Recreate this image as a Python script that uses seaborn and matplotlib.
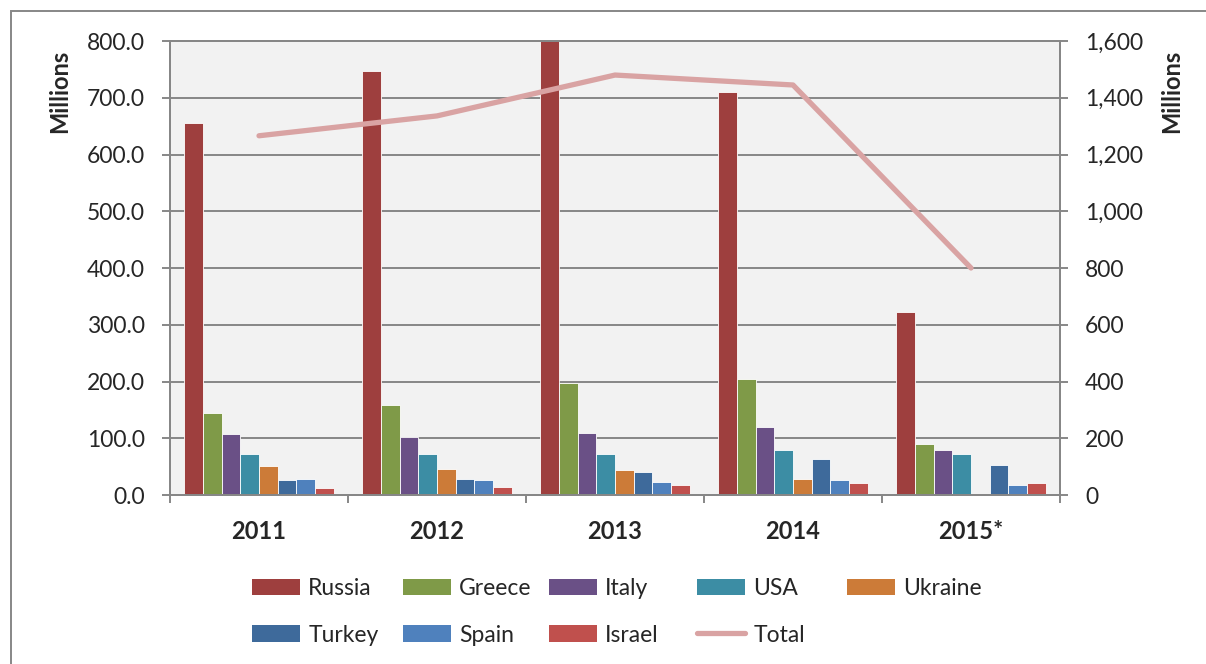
import numpy as np
import pandas as pd
import seaborn as sns
import matplotlib.pyplot as plt
from matplotlib.patches import Rectangle, Patch
from matplotlib.lines import Line2D
from matplotlib.ticker import FuncFormatter, MultipleLocator, FixedLocator

years = ["2011", "2012", "2013", "2014", "2015*"]
countries = ["Russia", "Greece", "Italy", "USA", "Ukraine", "Turkey", "Spain", "Israel"]

russia = [655, 747, 810, 710, 322]
greece = [144, 159, 197, 204, 90]
italy = [108, 102, 109, 120, 79]
usa = [73, 72, 73, 80, 72]
ukraine = [51, 46, 44, 29, np.nan]
turkey = [26, 28, 40, 63, 52]
spain = [29, 26, 23, 26, 18]
israel = [12, 14, 18, 22, 22]
total = [1266, 1336, 1480, 1445, 800]

colors = {
    "Russia": "#9E3F3E",
    "Greece": "#7F9A48",
    "Italy": "#6A5086",
    "USA": "#3C8DA4",
    "Ukraine": "#CC7B38",
    "Turkey": "#3E6A9B",
    "Spain": "#4F81BD",
    "Israel": "#C0504D",
}
total_color = "#D9A3A3"
grey = "#878787"

series = [russia, greece, italy, usa, ukraine, turkey, spain, israel]
df = pd.DataFrame({
    "year": np.tile(years, len(countries)),
    "country": np.repeat(countries, len(years)),
    "value": np.concatenate(series),
})

sns.set_style("white")
plt.rcParams["font.family"] = ["Lato", "DejaVu Sans"]
fs = 16.5

fig = plt.figure(figsize=(12.06, 6.64), dpi=100)
ax = fig.add_axes([170 / 1206, 1 - 495 / 664, (1060 - 170) / 1206, (495 - 41) / 664])
ax.set_facecolor("#F2F2F2")

sns.barplot(data=df, x="year", y="value", hue="country", order=years,
            hue_order=countries, palette=colors, saturation=1, errorbar=None,
            width=0.84, edgecolor="#FFFFFF", linewidth=0.6, legend=False, ax=ax)

ax.set_ylim(0, 800)
ax.set_xlim(-0.5, 4.5)
ax.yaxis.set_major_locator(MultipleLocator(100))
ax.yaxis.set_major_formatter(FuncFormatter(lambda v, p: f"{v:.1f}"))
ax.grid(axis="y", color=grey, linewidth=1.4)
ax.set_axisbelow(True)
for s in ax.spines.values():
    s.set_color(grey)
    s.set_linewidth(1.4)
ax.tick_params(axis="y", left=True, length=6, width=1.4, color=grey, pad=12, labelsize=fs)
ax.tick_params(axis="x", which="major", length=0, pad=18)
ax.xaxis.set_minor_locator(FixedLocator(np.arange(-0.5, 5.0, 1.0)))
ax.tick_params(axis="x", which="minor", bottom=True, length=6, width=1.4, color=grey)
for lbl in ax.get_xticklabels():
    lbl.set_fontweight("bold")
    lbl.set_fontsize(17)
ax.set_xlabel("")
ax.set_ylabel("Millions", fontweight="bold", fontsize=17)
ax.yaxis.set_label_coords((71 - 170) / 890, (495 - 91) / 454)

ax2 = ax.twinx()
sns.lineplot(x=np.arange(len(years)), y=total, color=total_color, linewidth=3.8,
             solid_capstyle="round", ax=ax2)
ax2.set_ylim(0, 1600)
ax2.yaxis.set_major_locator(MultipleLocator(200))
ax2.yaxis.set_major_formatter(FuncFormatter(lambda v, p: f"{v:,.0f}"))
ax2.tick_params(axis="y", right=True, length=6, width=1.4, color=grey, pad=12, labelsize=fs)
for s in ax2.spines.values():
    s.set_color(grey)
    s.set_linewidth(1.4)
ax2.set_ylabel("Millions", fontweight="bold", fontsize=17)
ax2.yaxis.set_label_coords((1160 - 170) / 890, (495 - 91) / 454)

# legend: one small legend per column so the columns sit evenly like the original
handles = {c: Patch(facecolor=colors[c], edgecolor="none") for c in countries}
handles["Total"] = Line2D([0], [0], color=total_color, linewidth=3.8, solid_capstyle="round")
columns = [["Russia", "Turkey"], ["Greece", "Spain"], ["Italy", "Israel"],
           ["USA", "Total"], ["Ukraine"]]
col_x = [252, 403, 549, 697, 847]
for names, x in zip(columns, col_x):
    fig.legend([handles[k] for k in names], names, loc="upper left",
               bbox_to_anchor=(x / 1206, 1 - 578 / 664), frameon=False,
               fontsize=fs, handlelength=2.1, handleheight=0.75,
               handletextpad=0.35, labelspacing=1.12, borderpad=0,
               borderaxespad=0)

fig.add_artist(Rectangle((11 / 1206, -0.1), 1.2, 1 - 11 / 664 + 0.1,
                         transform=fig.transFigure, fill=False,
                         edgecolor=grey, linewidth=1.4))

fig.savefig("out.png", dpi=100)
